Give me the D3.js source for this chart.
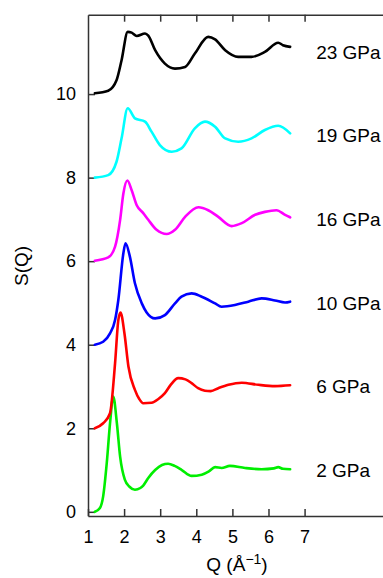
<!DOCTYPE html>
<html>
<head>
<meta charset="utf-8">
<script src="https://cdn.jsdelivr.net/npm/d3@7.9.0/dist/d3.min.js"></script>
<style>
  html, body { margin: 0; padding: 0; background: #fff; }
  svg { display: block; font-family: "Liberation Sans", Arial, sans-serif; }
</style>
</head>
<body>
<div id="chart"></div>
<script>
// pressures, colours and label positions (S values already include the vertical offset)
const pressures = ['2 GPa', '6 GPa', '10 GPa', '16 GPa', '19 GPa', '23 GPa'];
const colors = ['#00ee00', '#ff0000', '#0000ff', '#ff00ff', '#00ffff', '#000000'];
const labelS = [1, 3, 5, 7, 9, 11];
const xTicks = [1, 2, 3, 4, 5, 6, 7];
const yTicks = [0, 2, 4, 6, 8, 10];

// [Q, S]
const s2 = [[1.19,0.0],[1.33,0.09],[1.42,0.37],[1.52,1.17],[1.61,2.12],[1.70,2.76],[1.80,2.12],
  [1.89,1.32],[2.02,0.77],[2.15,0.60],[2.30,0.53],[2.45,0.57],[2.53,0.63],[2.67,0.81],[2.86,1.0],
  [3.05,1.12],[3.22,1.15],[3.40,1.10],[3.60,1.00],[3.87,0.86],[4.15,0.89],[4.35,0.97],[4.52,1.07],
  [4.70,1.05],[4.93,1.10],[5.35,1.05],[5.81,1.02],[6.15,1.04],[6.27,1.07],[6.40,1.03],[6.60,1.02]];
const s6 = [[1.19,2.0],[1.42,2.12],[1.61,2.36],[1.75,3.56],[1.84,4.59],[1.90,4.77],[2.01,4.27],
  [2.12,3.48],[2.30,2.92],[2.42,2.70],[2.53,2.60],[2.76,2.61],[2.95,2.70],[3.13,2.84],[3.30,3.05],
  [3.50,3.20],[3.70,3.17],[3.87,3.08],[4.05,2.96],[4.24,2.90],[4.40,2.89],[4.61,2.96],[4.89,3.04],
  [5.26,3.09],[5.72,3.04],[6.18,3.01],[6.60,3.03]];
const s10 = [[1.19,4.0],[1.42,4.07],[1.61,4.27],[1.75,4.59],[1.84,5.07],[1.98,6.19],[2.04,6.43],
  [2.16,6.11],[2.30,5.47],[2.49,4.99],[2.62,4.78],[2.86,4.63],[3.13,4.71],[3.41,4.99],[3.59,5.15],
  [3.87,5.23],[4.15,5.15],[4.52,4.99],[4.70,4.91],[5.07,4.95],[5.44,5.03],[5.81,5.11],[6.18,5.06],
  [6.46,5.01],[6.60,5.03]];
const s16 = [[1.19,6.01],[1.56,6.09],[1.75,6.35],[1.89,6.99],[1.98,7.62],[2.09,7.93],[2.21,7.70],
  [2.35,7.34],[2.53,7.15],[2.67,6.99],[2.90,6.75],[3.18,6.65],[3.41,6.75],[3.69,7.06],[4.06,7.29],
  [4.33,7.22],[4.61,7.06],[4.98,6.84],[5.26,6.91],[5.63,7.11],[5.90,7.18],[6.22,7.22],[6.46,7.11],[6.60,7.05]];
const s19 = [[1.19,8.0],[1.56,8.06],[1.79,8.38],[1.93,8.94],[2.10,9.66],[2.30,9.42],[2.58,9.34],
  [2.76,9.10],[2.99,8.78],[3.32,8.62],[3.59,8.70],[3.96,9.18],[4.24,9.34],[4.52,9.22],[4.80,8.94],
  [5.16,8.86],[5.53,8.94],[5.90,9.14],[6.27,9.24],[6.60,9.06]];
const s23 = [[1.19,10.02],[1.56,10.08],[1.79,10.33],[1.93,10.81],[2.10,11.49],[2.21,11.47],[2.35,11.39],
  [2.58,11.45],[2.67,11.40],[2.86,11.05],[3.13,10.73],[3.41,10.61],[3.69,10.65],[3.96,10.97],[4.33,11.37],
  [4.52,11.31],[4.80,11.05],[5.16,10.89],[5.53,10.89],[5.90,11.01],[6.27,11.23],[6.40,11.17],[6.60,11.13]];
const series = [s2, s6, s10, s16, s19, s23];

const width = 383;
const height = 578;
const margin = { top: 14.7, right: -1, bottom: 62, left: 88 };

const svg = d3.select('#chart')
  .append('svg')
  .attr('width', width)
  .attr('height', height);

const x = d3.scaleLinear()
  .domain([1, 9.2])
  .range([margin.left, width - margin.right]);

const y = d3.scaleLinear()
  .domain([-0.1, 11.9])
  .range([height - margin.bottom, margin.top]);

function styleAxis(g) {
  g.select('.domain').attr('stroke', '#333').attr('stroke-width', 1.5);
  g.selectAll('.tick line').attr('stroke', '#333').attr('stroke-width', 1.5);
  g.selectAll('.tick text').attr('fill', '#000').style('font-size', '18px')
    .style('font-family', '"Liberation Sans", Arial, sans-serif');
}

svg.append('g')
  .attr('transform', `translate(0,${height - margin.bottom})`)
  .call(d3.axisBottom(x).tickValues(xTicks).tickSizeInner(-7).tickSizeOuter(0).tickPadding(14).tickFormat(d3.format('d')))
  .call(styleAxis);

svg.append('g')
  .attr('transform', `translate(0,${margin.top})`)
  .call(d3.axisTop(x).tickValues(xTicks.slice(1)).tickSizeInner(-7).tickSizeOuter(0).tickFormat(''))
  .call(styleAxis);

svg.append('g')
  .attr('transform', `translate(${margin.left},0)`)
  .call(d3.axisLeft(y).tickValues(yTicks).tickSizeInner(-7).tickSizeOuter(0).tickPadding(12).tickFormat(d3.format('d')))
  .call(styleAxis);

const line = d3.line()
  .x(d => x(d[0]))
  .y(d => y(d[1]))
  .curve(d3.curveMonotoneX);

svg.append('g')
  .selectAll('path')
  .data(series)
  .join('path')
  .attr('d', line)
  .attr('fill', 'none')
  .attr('stroke', (d, i) => colors[i])
  .attr('stroke-width', 2.6)
  .attr('stroke-linejoin', 'round')
  .attr('stroke-linecap', 'round');

svg.append('g')
  .selectAll('text')
  .data(pressures)
  .join('text')
  .attr('x', x(7.32))
  .attr('y', (d, i) => y(labelS[i]))
  .attr('dy', '0.35em')
  .style('font-size', '19px')
  .text(d => d);

svg.append('text')
  .attr('transform', `translate(28,266) rotate(-90)`)
  .attr('text-anchor', 'middle')
  .style('font-size', '19px')
  .text('S(Q)');

const xl = svg.append('text')
  .attr('x', 237)
  .attr('y', 571)
  .attr('text-anchor', 'middle')
  .style('font-size', '19px');
xl.append('tspan').text('Q (Å');
xl.append('tspan').attr('dy', '-7').style('font-size', '14px').text('−1');
xl.append('tspan').attr('dy', '7').text(')');
</script>
</body>
</html>
